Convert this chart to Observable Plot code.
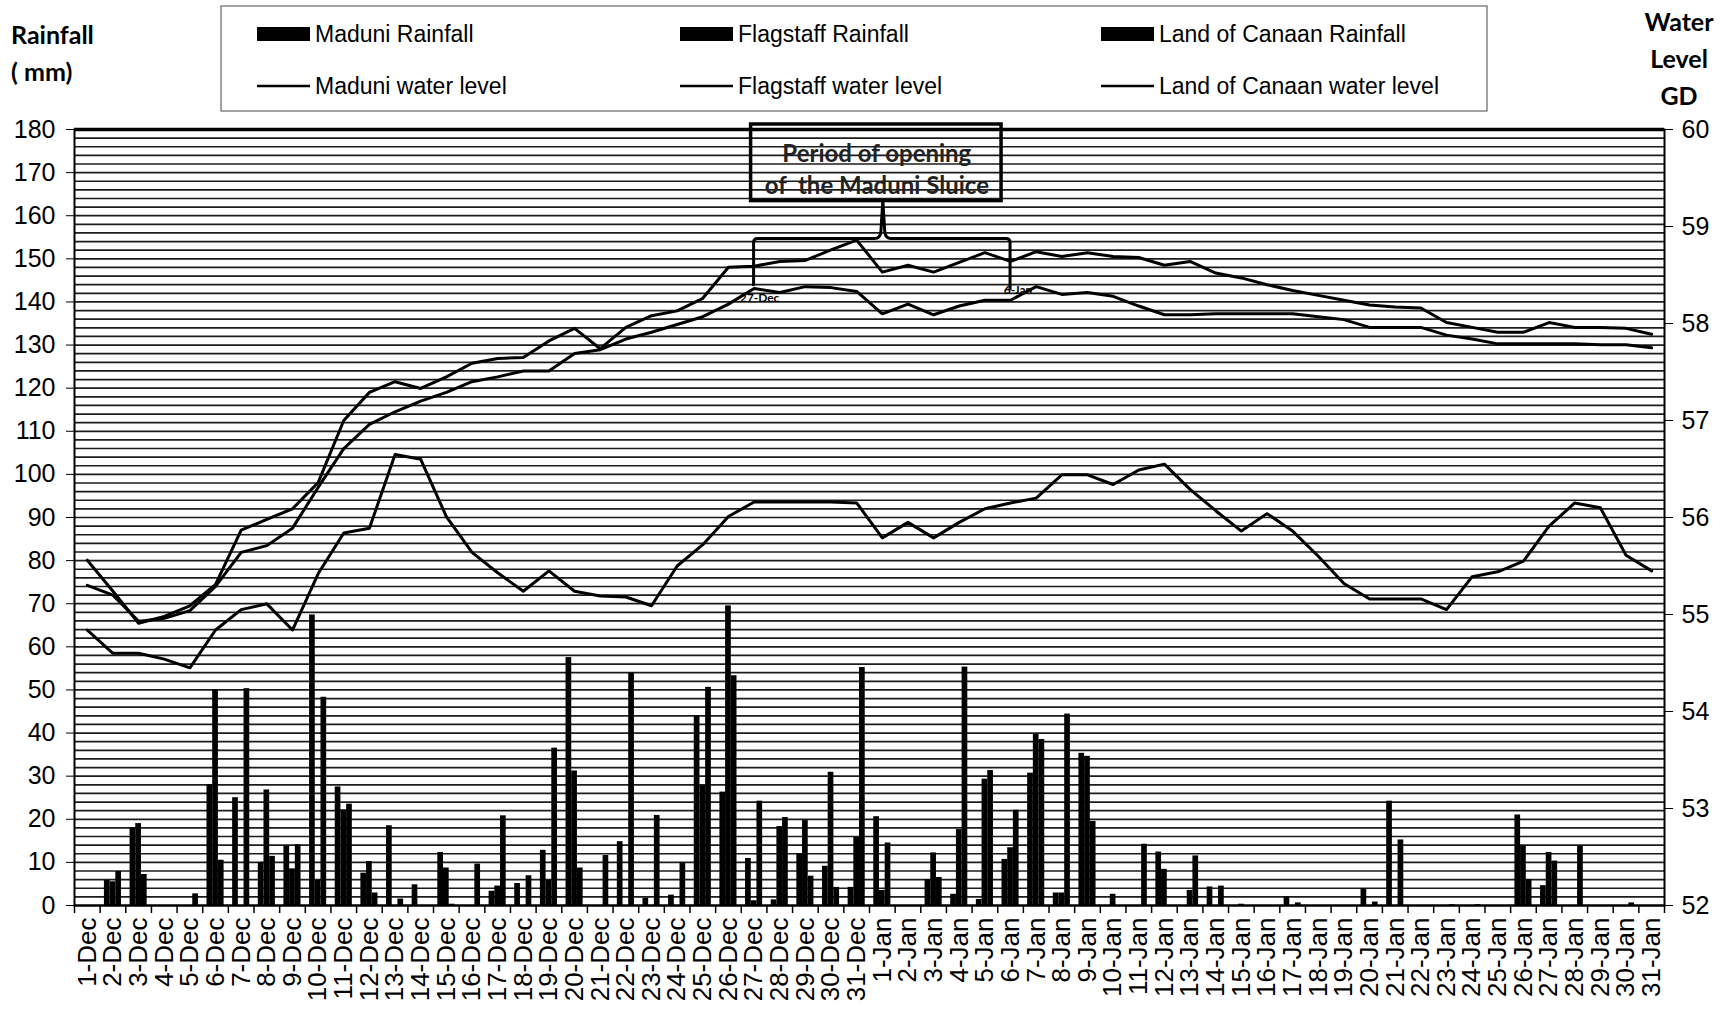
<!DOCTYPE html>
<html><head><meta charset="utf-8">
<script src="https://cdn.jsdelivr.net/npm/d3@7"></script>
<script src="https://cdn.jsdelivr.net/npm/@observablehq/plot@0.6"></script>
<style>
html,body{margin:0;padding:0;background:#fff;}
#chart{position:relative;width:1734px;height:1019px;overflow:hidden;}
</style></head><body><div id="chart"></div>
<script>
// ---------- categories ----------
const decDays = d3.range(1, 32).map(d => `${d}-Dec`);
const janDays = d3.range(1, 32).map(d => `${d}-Jan`);
const days = [...decDays, ...janDays];

// ---------- rainfall (mm), 1-Dec ... 31-Jan ----------
const maduniRain = [
  0, 5.8, 18, 0, 0, 28, 25, 10, 13.8, 67.4, 27.5, 7.5, 18.5, 4.8, 12.3, 0, 3.3, 5.1, 12.8, 57.5, 0, 14.8, 1.7, 2.4, 44, 26.3, 10.9, 1.3, 12, 9.1, 4.2,
  20.6, 0, 6, 2.6, 1.4, 10.7, 30.7, 2.9, 35.3, 0, 0, 12.4, 0, 4.3, 0, 0, 2, 0, 0, 3.9, 24.2, 0, 0, 0, 0, 21, 4.6, 0, 0, 0, 0
];
const flagstaffRain = [
  0, 5.5, 19, 0, 0, 50, 0, 26.8, 8.5, 5.8, 22.2, 10.2, 0, 0, 8.7, 0, 4.5, 0, 5.8, 31.2, 0, 0, 0, 0, 27.8, 69.5, 1.1, 18.3, 19.7, 30.9, 15.8,
  3.5, 0, 12.2, 17.6, 29.3, 13.4, 39.7, 2.9, 34.6, 2.6, 0, 8.4, 3.5, 0, 0.3, 0, 0, 0, 0, 0, 0, 0, 0, 0, 0, 13.8, 12.3, 0, 0, 0, 0
];
const canaanRain = [
  0, 7.9, 7.2, 0, 2.7, 10.5, 50.3, 11.4, 14.1, 48.3, 23.5, 2.9, 1.5, 0, 0.3, 9.6, 20.8, 6.9, 36.5, 8.7, 11.6, 53.9, 20.9, 9.9, 50.6, 53.3, 24.2, 20.4, 6.8, 4.2, 55.2,
  14.5, 0, 6.5, 55.3, 31.3, 22.1, 38.5, 44.4, 19.5, 0, 14.2, 0, 11.5, 4.5, 0, 0, 0.6, 0, 0, 0.8, 15.2, 0, 0.2, 0.2, 0, 6, 10.3, 13.7, 0, 0.6, 0
];

// ---------- water levels (GD), 1-Dec ... 31-Jan ----------
const maduniLevel = [
  54.84, 54.60, 54.60, 54.54, 54.45, 54.84, 55.05, 55.11, 54.84, 55.42, 55.84, 55.89, 56.65, 56.60, 56.01, 55.64, 55.43, 55.24, 55.45, 55.24, 55.19, 55.18, 55.09, 55.50, 55.72, 56.01, 56.16, 56.16, 56.16, 56.16, 56.15,
  55.79, 55.95, 55.79, 55.95, 56.09, 56.15, 56.20, 56.44, 56.44, 56.34, 56.49, 56.55, 56.29, 56.07, 55.86, 56.04, 55.86, 55.60, 55.32, 55.16, 55.16, 55.16, 55.05, 55.39, 55.44, 55.55, 55.91, 56.15, 56.10, 55.61, 55.45
];
const flagstaffLevel = [
  55.56, 55.24, 54.91, 54.98, 55.09, 55.31, 55.87, 55.98, 56.09, 56.36, 57.00, 57.29, 57.40, 57.33, 57.45, 57.59, 57.64, 57.65, 57.82, 57.95, 57.74, 57.96, 58.08, 58.13, 58.26, 58.58, 58.59, 58.64, 58.65, 58.76, 58.86,
  58.53, 58.60, 58.53, 58.63, 58.73, 58.64, 58.74, 58.69, 58.73, 58.69, 58.68, 58.60, 58.64, 58.52, 58.47, 58.40, 58.34, 58.29, 58.24, 58.19, 58.17, 58.16, 58.01, 57.96, 57.91, 57.91, 58.01, 57.96, 57.96, 57.95, 57.89
];
const canaanLevel = [
  55.30, 55.20, 54.93, 54.96, 55.04, 55.29, 55.64, 55.71, 55.89, 56.31, 56.71, 56.96, 57.09, 57.20, 57.29, 57.40, 57.45, 57.51, 57.51, 57.69, 57.73, 57.84, 57.91, 57.99, 58.07, 58.20, 58.36, 58.32, 58.38, 58.37, 58.33,
  58.10, 58.20, 58.09, 58.18, 58.24, 58.24, 58.38, 58.30, 58.32, 58.28, 58.18, 58.09, 58.09, 58.10, 58.10, 58.10, 58.10, 58.07, 58.04, 57.96, 57.96, 57.96, 57.88, 57.84, 57.79, 57.79, 57.79, 57.79, 57.78, 57.78, 57.75
];

// ---------- axes ----------
const rainTicks = d3.range(0, 181, 10);
const levelTicks = [52, 53, 54, 55, 56, 57, 58, 59, 60];
const rainMax = 180, levelMin = 52, levelMax = 60;
const toY = w => (w - levelMin) * rainMax / (levelMax - levelMin);

// ---------- annotation ----------
const annotationLines = ["Period of opening", "of  the Maduni Sluice"];
const annotationFrom = "27-Dec", annotationTo = "6-Jan";

// ---------- layout ----------
const W = 1734, H = 1019;
const margin = {top: 129, right: 70, bottom: 114, left: 74};
const bw = (W - margin.left - margin.right) / days.length;
const bar = bw / 4.5;               // clustered columns, 150% gap width
const pxToRain = rainMax / (H - margin.top - margin.bottom);
const FONT = "'Liberation Sans', Arial, sans-serif";
const TITLEFONT = "Lato, 'Open Sans', sans-serif";

const rainSeries = [
  {name: "Maduni Rainfall", values: maduniRain, slot: 0},
  {name: "Flagstaff Rainfall", values: flagstaffRain, slot: 1},
  {name: "Land of Canaan Rainfall", values: canaanRain, slot: 2}
];
const levelSeries = [
  {name: "Maduni water level", values: maduniLevel},
  {name: "Flagstaff water level", values: flagstaffLevel},
  {name: "Land of Canaan water level", values: canaanLevel}
];

const marks = [
  Plot.ruleY(d3.range(2, rainMax, 2), {stroke: "#1c1c1c", strokeWidth: 1.7}),
  ...rainSeries.map(s => Plot.barY(days.map((d, i) => ({day: d, v: s.values[i]})), {
    x: "day", y: "v", fill: "#000",
    insetLeft: bar * (0.75 + s.slot), insetRight: bw - bar * (1.75 + s.slot)
  })),
  ...levelSeries.map(s => Plot.line(days.map((d, i) => ({day: d, w: s.values[i]})), {
    x: "day", y: d => toY(d.w), stroke: "#000", strokeWidth: 3, strokeLinejoin: "round"
  })),
  Plot.frame({stroke: "#000", strokeWidth: 2}),
  Plot.ruleY([rainMax], {stroke: "#000", strokeWidth: 3.5}),
  Plot.ruleY([0], {stroke: "#000", strokeWidth: 2}),
  Plot.ruleX(days, {x: d => d, dx: -bw / 2, y1: 0, y2: -8 * pxToRain, stroke: "#000", strokeWidth: 1.5}),
  Plot.ruleX([days[days.length - 1]], {x: d => d, dx: bw / 2, y1: 0, y2: -8 * pxToRain, stroke: "#000", strokeWidth: 1.5}),
  Plot.axisY({anchor: "left", ticks: rainTicks, tickSize: 8, tickPadding: 11, fontSize: 25, label: null, tickFormat: d => String(d)}),
  Plot.axisY({anchor: "right", ticks: levelTicks.map(toY), tickSize: 8, tickPadding: 9, fontSize: 25, label: null,
    tickFormat: v => String(Math.round(levelMin + v * (levelMax - levelMin) / rainMax))}),
  Plot.axisX({tickRotate: -90, tickSize: 0, tickPadding: 12, fontSize: 26, label: null})
];

const plot = Plot.plot({
  width: W, height: H,
  marginTop: margin.top, marginRight: margin.right, marginBottom: margin.bottom, marginLeft: margin.left,
  x: {type: "band", domain: days, padding: 0},
  y: {domain: [0, rainMax], nice: false},
  style: {fontFamily: FONT, color: "#000", background: "#fff", overflow: "visible"},
  marks
});
document.getElementById("chart").appendChild(plot);

// ---------- overlay: titles, legend, annotation ----------
const svg = d3.select(plot);
const xs = plot.scale("x"), ys = plot.scale("y");
const cx = d => xs.apply(d) + xs.bandwidth / 2;
const g = svg.append("g").attr("text-anchor", "start");

// axis titles
const leftTitle = g.append("text").attr("text-anchor", "start").attr("font-family", TITLEFONT).attr("font-weight", 700).attr("font-size", 25).attr("fill", "#000");
leftTitle.append("tspan").attr("x", 11).attr("y", 44).text("Rainfall");
leftTitle.append("tspan").attr("x", 11).attr("y", 81).text("( mm)");
const rightTitle = g.append("text").attr("font-family", TITLEFONT).attr("font-weight", 700).attr("font-size", 25).attr("fill", "#000").attr("text-anchor", "middle");
[["Water", 31], ["Level", 68], ["GD", 105]].forEach(([t, y]) => rightTitle.append("tspan").attr("x", 1679).attr("y", y).text(t));

// legend
g.append("rect").attr("x", 221).attr("y", 6).attr("width", 1266).attr("height", 105)
  .attr("fill", "none").attr("stroke", "#666").attr("stroke-width", 1.2);
const legendCols = [257, 680, 1101];
const swatchW = 53;
rainSeries.forEach((s, i) => {
  const x0 = legendCols[i];
  g.append("rect").attr("x", x0).attr("y", 27).attr("width", swatchW).attr("height", 14).attr("fill", "#000");
  g.append("text").attr("text-anchor", "start").attr("x", x0 + swatchW + 5).attr("y", 42).attr("font-family", FONT).attr("font-size", 23).attr("fill", "#000").text(s.name);
});
levelSeries.forEach((s, i) => {
  const x0 = legendCols[i];
  g.append("line").attr("x1", x0).attr("x2", x0 + swatchW).attr("y1", 86).attr("y2", 86).attr("stroke", "#000").attr("stroke-width", 2.5);
  g.append("text").attr("text-anchor", "start").attr("x", x0 + swatchW + 5).attr("y", 94).attr("font-family", FONT).attr("font-size", 23).attr("fill", "#000").text(s.name);
});

// annotation: period of opening of the sluice
const xa = cx(annotationFrom), xb = cx(annotationTo);
const iFrom = days.indexOf(annotationFrom), iTo = days.indexOf(annotationTo);
const yBrace = ys.apply(154.6);
const yBoxTop = ys.apply(rainMax) - 5, yBoxBot = ys.apply(163.4);
const xm = (xa + xb) / 2 + 1;
g.append("rect").attr("x", xa - 3).attr("y", yBoxTop).attr("width", xb - xa - 6).attr("height", yBoxBot - yBoxTop)
  .attr("fill", "none").attr("stroke", "#000").attr("stroke-width", 3.5);
annotationLines.forEach((t, i) => {
  g.append("text").attr("x", (xa + xb) / 2 - 5).attr("y", yBoxTop + 38 + i * 32).attr("text-anchor", "middle")
    .attr("font-family", TITLEFONT).attr("font-weight", 700).attr("font-size", 24).attr("fill", "#222").text(t);
});
const yFromEnd = ys.apply(toY(canaanLevel[iFrom]) + 0.5);
const yToEnd = ys.apply(toY(canaanLevel[iTo]) + 2.2);
g.append("path").attr("fill", "none").attr("stroke", "#000").attr("stroke-width", 3).attr("stroke-linejoin", "round")
  .attr("d", `M${xa},${yFromEnd} L${xa},${yBrace + 4} Q${xa},${yBrace} ${xa + 4},${yBrace} L${xm - 8},${yBrace} Q${xm - 3},${yBrace} ${xm - 2},${yBrace - 6} L${xm},${yBoxBot} L${xm + 2},${yBrace - 6} Q${xm + 3},${yBrace} ${xm + 8},${yBrace} L${xb - 4},${yBrace} Q${xb},${yBrace} ${xb},${yBrace + 4} L${xb},${yToEnd}`);
g.append("text").attr("x", xa + 6).attr("y", yFromEnd + 16).attr("text-anchor", "middle").attr("font-family", TITLEFONT)
  .attr("font-weight", 700).attr("font-size", 12).attr("fill", "#000").text(annotationFrom);
g.append("text").attr("x", xb + 8).attr("y", yToEnd + 4).attr("text-anchor", "middle").attr("font-family", TITLEFONT)
  .attr("font-weight", 700).attr("font-size", 12).attr("fill", "#000").text(annotationTo);
</script>
</body></html>
